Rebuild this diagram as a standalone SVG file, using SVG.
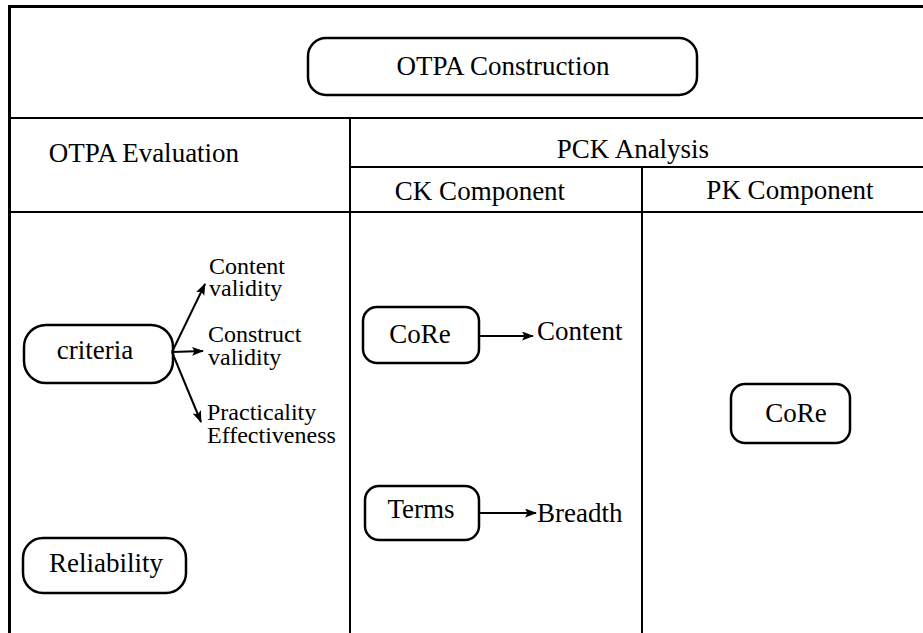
<svg xmlns="http://www.w3.org/2000/svg" width="923" height="633" viewBox="0 0 923 633" font-family="'Liberation Serif', Tinos, 'Times New Roman', 'DejaVu Serif', serif">
<style>
.t27{font-size:27px}
.t24{font-size:24px}
.mid{text-anchor:middle}
.frame{stroke:#000;stroke-width:2;fill:none}
.border{stroke:#000;stroke-width:3;fill:none}
.box{stroke:#000;stroke-width:2.5;fill:#fff}
.conn{stroke:#000;stroke-width:2;fill:none}
</style>
<defs>
<marker id="ah" markerUnits="userSpaceOnUse" markerWidth="12" markerHeight="10" refX="11" refY="4.5" orient="auto">
<path d="M0,0 L12,4.5 L0,9 L2.5,4.5 Z" fill="#000"/>
</marker>
</defs>
<rect width="923" height="633" fill="#fff"/>
<g id="frame">
<polyline class="border" points="9.5,633 9.5,6.5 923,6.5"/>
<line class="frame" x1="9" y1="118" x2="923" y2="118"/>
<line class="frame" x1="350" y1="118" x2="350" y2="633"/>
<line class="frame" x1="350" y1="167" x2="923" y2="167"/>
<line class="frame" x1="642" y1="167" x2="642" y2="633"/>
<line class="frame" x1="9" y1="212" x2="923" y2="212"/>
</g>
<g id="headers" font-family="'Liberation Serif', Tinos, serif" fill="#000">
<text class="t27 mid" x="144" y="162">OTPA Evaluation</text>
<text class="t27 mid" x="633" y="158">PCK Analysis</text>
<text class="t27 mid" x="480" y="200">CK Component</text>
<text class="t27 mid" x="790" y="199">PK Component</text>
</g>
<g id="otpa-construction">
<rect class="box" x="308" y="38" width="389" height="57" rx="18"/>
<text class="t27 mid" x="503" y="75">OTPA Construction</text>
</g>
<g id="criteria">
<rect class="box" x="24" y="325" width="149" height="58" rx="22"/>
<text class="t27 mid" x="95" y="359">criteria</text>
</g>
<g id="reliability">
<rect class="box" x="23" y="538" width="163" height="55" rx="20"/>
<text class="t27 mid" x="106" y="572">Reliability</text>
</g>
<g id="content-validity">
<text class="t24" x="209" y="274">Content</text>
<text class="t24" x="209" y="296">validity</text>
</g>
<g id="construct-validity">
<text class="t24" x="208" y="342">Construct</text>
<text class="t24" x="208" y="365">validity</text>
</g>
<g id="practicality">
<text class="t24" x="207" y="420">Practicality</text>
<text class="t24" x="207" y="443">Effectiveness</text>
</g>
<g id="ck-core">
<rect class="box" x="363" y="307" width="116" height="56" rx="14"/>
<text class="t27 mid" x="420" y="343">CoRe</text>
</g>
<g id="ck-content">
<text class="t27" x="537" y="340">Content</text>
</g>
<g id="ck-terms">
<rect class="box" x="365" y="486" width="114" height="54" rx="14"/>
<text class="t27 mid" x="421" y="518">Terms</text>
</g>
<g id="ck-breadth">
<text class="t27" x="537" y="522">Breadth</text>
</g>
<g id="pk-core">
<rect class="box" x="731" y="384" width="119" height="59" rx="14"/>
<text class="t27 mid" x="796" y="422">CoRe</text>
</g>
<g id="connectors">
<line class="conn" x1="172" y1="352" x2="205" y2="284" marker-end="url(#ah)"/>
<line class="conn" x1="172" y1="352" x2="203" y2="351" marker-end="url(#ah)"/>
<line class="conn" x1="172" y1="352" x2="201" y2="422" marker-end="url(#ah)"/>
<line class="conn" x1="479" y1="336" x2="533" y2="336" marker-end="url(#ah)"/>
<line class="conn" x1="479" y1="513" x2="536" y2="513" marker-end="url(#ah)"/>
</g>
</svg>
